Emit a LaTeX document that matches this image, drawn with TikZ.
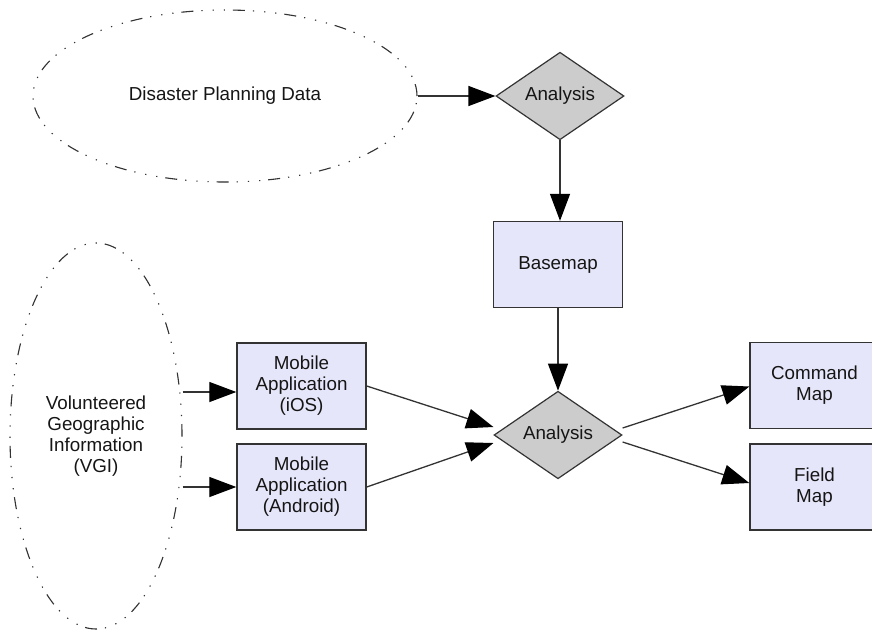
\documentclass[tikz,border=0pt]{standalone}
\usepackage{fontspec}
\setmainfont{Liberation Sans}
\usetikzlibrary{shapes.geometric,arrows.meta,calc}
\definecolor{boxfill}{HTML}{E6E6FA}
\definecolor{dfill}{HTML}{CCCCCC}
\definecolor{edge}{HTML}{333333}
\definecolor{txt}{HTML}{151515}
\tikzset{
  every node/.style={font=\fontsize{18.8}{21}\selectfont, text=txt, align=center, inner sep=0pt},
  srcell/.style={ellipse, preaction={draw=gray!40, line width=0.5pt},
     draw=black!80, line width=1.1pt, dash pattern=on 12pt off 8pt on 1.2pt off 10pt on 1.2pt off 10pt on 1.2pt off 8pt},
  procbox/.style={rectangle, draw=edge, line width=1.4pt, fill=boxfill, minimum width=129pt, minimum height=86pt},
  decide/.style={diamond, draw=edge, line width=1.2pt, fill=dfill, minimum width=128pt, minimum height=85pt},
  arr/.style={draw=edge, line width=1.3pt, -{Triangle[length=27pt,width=20pt,fill=black,color=black]}}
}
\begin{document}
\begin{tikzpicture}[x=1pt,y=-1pt]
\useasboundingbox (0,0) rectangle (872,630);
\node[srcell, minimum width=384pt, minimum height=172pt] (dpd) at (225,96) {Disaster Planning Data};
\node[decide] (an1) at (560,96) {Analysis};
\node[procbox] (base) at (558,264.5) {Basemap};
\node[decide] (an2) at (558,435) {Analysis};
\node[srcell, minimum width=172pt, minimum height=386pt] (vgi) at (96,436) {Volunteered\\Geographic\\Information\\(VGI)};
\node[procbox] (ios) at (301.5,386) {Mobile\\Application\\(iOS)};
\node[procbox] (andr) at (301.5,487) {Mobile\\Application\\(Android)};
\node[procbox] (cmd) at (814.5,385.5) {Command\\Map};
\node[procbox] (fld) at (814.5,487) {Field\\Map};
\coordinate (iosin) at ([yshift=-6pt]ios.west);
\draw[arr] (dpd.east) -- (an1.west);
\draw[arr] (an1.south) -- (an1.south |- base.north);
\draw[arr] (base.south) -- (an2.north);
\draw[arr] (iosin -| vgi.east) -- (iosin);
\draw[arr] (andr.west -| vgi.east) -- (andr.west);
\draw[arr] (ios.east) -- ([yshift=8pt]an2.west);
\draw[arr] (andr.east) -- ([yshift=-8pt]an2.west);
\draw[arr] ([yshift=7pt]an2.east) -- ([yshift=-1pt]cmd.west);
\draw[arr] ([yshift=-7pt]an2.east) -- ([yshift=4pt]fld.west);
\end{tikzpicture}
\end{document}
